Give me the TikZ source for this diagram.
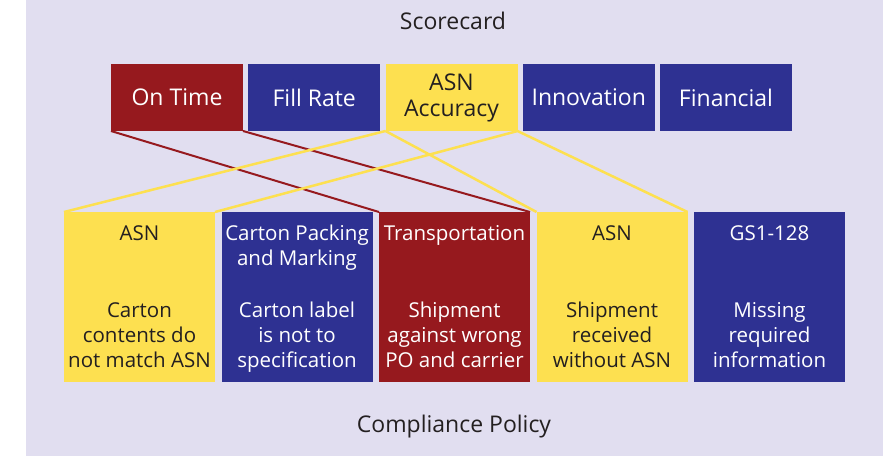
\documentclass[tikz,border=0pt]{standalone}
\usepackage{fontspec}
\setmainfont{Open Sans}
\usetikzlibrary{positioning}

\definecolor{scred}{RGB}{150,25,30}
\definecolor{scblue}{RGB}{46,49,146}
\definecolor{scyellow}{RGB}{253,224,80}
\definecolor{sclav}{RGB}{225,222,240}
\definecolor{scink}{RGB}{35,31,32}

\tikzset{
  topbox/.style={minimum width=132pt, minimum height=67pt, inner sep=0pt, outer sep=0pt,
    align=center, font=\fontsize{23}{26}\selectfont},
  lowbox/.style={minimum width=151pt, minimum height=170pt, inner sep=0pt, outer sep=0pt},
  onred/.style={fill=scred, text=white},
  onblue/.style={fill=scblue, text=white},
  onyellow/.style={fill=scyellow, text=scink},
  cell/.style={align=center, anchor=base, inner sep=0pt, font=\fontsize{20.5}{25}\selectfont},
  caption/.style={anchor=base, inner sep=0pt, text=scink, font=\fontsize{23}{26}\selectfont},
  redlink/.style={draw=scred, line width=2pt},
  yellowlink/.style={draw=scyellow, line width=2.5pt}
}

\begin{document}
\begin{tikzpicture}[x=1pt, y=-1pt]
\useasboundingbox (0,0) rectangle (883,456);
\fill[sclav] (26,0) rectangle (883,456);

\node[caption] (score) at (453,29.5) {Scorecard};
\node[caption] (policy) at (454,432) {Compliance Policy};

% scorecard row
\node[topbox, onred] (ontime) at (177,97.5) {On Time};
\node[topbox, onblue, right=5.25pt of ontime] (fillrate) {Fill Rate};
\node[topbox, onyellow, right=5.25pt of fillrate] (asnacc) {ASN\\Accuracy};
\node[topbox, onblue, right=5.25pt of asnacc] (innov) {Innovation};
\node[topbox, onblue, right=5.25pt of innov] (financial) {Financial};

% policy row
\node[lowbox, onyellow] (asnA) at (139.5,297) {};
\node[lowbox, onblue, right=6.5pt of asnA] (carton) {};
\node[lowbox, onred, right=6.5pt of carton] (transp) {};
\node[lowbox, onyellow, right=6.5pt of transp] (asnB) {};
\node[lowbox, onblue, right=6.5pt of asnB] (gsone) {};

% base = last line
\node[cell, text=scink] (asnAhead) at ([yshift=-28pt]asnA.north) {ASN};
\node[cell, text=white] (cartonhead) at ([yshift=-53pt]carton.north) {Carton Packing\\and Marking};
\node[cell, text=white] (transphead) at ([yshift=-28pt]transp.north) {Transportation};
\node[cell, text=scink] (asnBhead) at ([yshift=-28pt]asnB.north) {ASN};
\node[cell, text=white] (gsonehead) at ([yshift=-28pt]gsone.north) {GS1-128};

\node[cell, text=scink] (asnAbody) at ([yshift=-155pt]asnA.north) {Carton\\contents do\\not match ASN};
\node[cell, text=white] (cartonbody) at ([yshift=-155pt]carton.north) {Carton label\\is not to\\specification};
\node[cell, text=white] (transpbody) at ([yshift=-155pt]transp.north) {Shipment\\against wrong\\PO and carrier};
\node[cell, text=scink] (asnBbody) at ([yshift=-155pt]asnB.north) {Shipment\\received\\without ASN};
\node[cell, text=white] (gsonebody) at ([yshift=-155pt]gsone.north) {Missing\\required\\information};

% links
\draw[redlink] (ontime.south west) -- (transp.north west)
  (ontime.south east) -- (transp.north east);
\draw[yellowlink] (asnacc.south west) -- (asnA.north west)
  (asnacc.south west) -- (asnB.north west)
  (asnacc.south east) -- (asnA.north east)
  (asnacc.south east) -- (asnB.north east);
\end{tikzpicture}
\end{document}
